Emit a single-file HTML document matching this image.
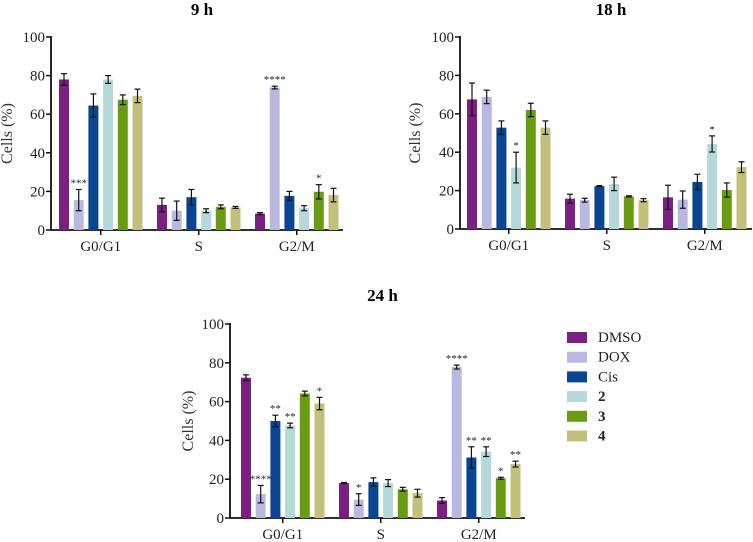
<!DOCTYPE html>
<html><head><meta charset="utf-8"><style>
html,body{margin:0;padding:0;background:#fff;}
svg{display:block;}
svg text{font-family:"Liberation Serif","DejaVu Serif",serif;}
</style></head><body>
<svg id="c" width="753" height="542" viewBox="0 0 753 542"></svg>
<script>
const groups=["G0/G1","S","G2/M"];
const seriesNames=["DMSO","DOX","Cis","2","3","4"];
const colors=["#7b1f82","#b9b9e0","#0a4592","#b5d8d8","#6a9c12","#c3c07c"];
const yTicks=[0,20,40,60,80,100];
const v9=[[78,15.5,64.5,78,67.5,69.5],[13,10,17,10,12,11.7],[8.5,73.8,17.7,11.3,19.8,18.1]];
const e9=[[3,5.5,6,2,2.5,3.5],[3.5,5,4,1,1,0.5],[0.5,0.7,2.3,1.3,3.7,3.5]];
const s9=[["","***","","","",""],["","","","","",""],["","****","","","*",""]];
const v18=[[67.5,68.8,52.8,32,62,52.8],[15.8,15,22.3,23.5,17,15],[16.5,15.3,24.5,44.3,20.3,32.2]];
const e18=[[8.5,3.5,3.5,8,3.5,3.5],[2.3,1,0.3,3.5,0.3,0.8],[6.3,4.5,4,4.2,3.7,2.8]];
const s18=[["","","","*","",""],["","","","","",""],["","","","*","",""]];
const v24=[[72.3,12.3,50,47.7,64.2,59],[18,9.5,18.5,18,14.8,12.8],[9,77.8,31.2,34.2,20.5,27.8]];
const e24=[[1.5,4.5,3,1.2,1.2,3.2],[0.3,3,2.2,1.8,1,2],[1.5,1,5.5,2.5,0.5,1.5]];
const s24=[["","****","**","**","","*"],["","*","","","",""],["","****","**","**","*","**"]];
const NS="http://www.w3.org/2000/svg";
const svg=document.getElementById('c');
function mk(t,a,p){const e=document.createElementNS(NS,t);for(const k in a)e.setAttribute(k,a[k]);(p||svg).appendChild(e);return e;}
function panel(name,title,vals,errs,sigs,ax,y0,y100,xEnd,firstBar,gStep,titleY,ylabX){
  const g=mk('g',{});
  
  
  const y=v=>y0-(y0-y100)*v/100;
  const bw=10,step=14.7;
  const t=mk('text',{x:(ax+xEnd)/2+5,y:titleY,'text-anchor':'middle','font-size':17,'font-weight':'bold'},g);t.textContent=title;
  
  const yl=mk('text',{x:ylabX,y:(y0+y100)/2,'text-anchor':'middle','font-size':16,fill:'#333',transform:`rotate(-90 ${ylabX} ${(y0+y100)/2})`},g);yl.textContent="Cells (%)";
  
  mk('line',{x1:ax,y1:y100-1,x2:ax,y2:y0,stroke:'#111','stroke-width':1.8},g);
  mk('line',{x1:ax,y1:y0,x2:xEnd,y2:y0,stroke:'#111','stroke-width':1.8},g);
  yTicks.forEach(tv=>{mk('line',{x1:ax-5,y1:y(tv),x2:ax,y2:y(tv),stroke:'#111','stroke-width':1.5},g);
    const tl=mk('text',{x:ax-6,y:y(tv)+5,'text-anchor':'end','font-size':15,fill:'#222'},g);tl.textContent=tv;
    });
  groups.forEach((gn,gi)=>{
    const gx=firstBar+gi*gStep;const cx=gx+2.5*step+bw/2;
    mk('line',{x1:cx,y1:y0,x2:cx,y2:y0+5,stroke:'#111','stroke-width':1.5},g);
    const xl=mk('text',{x:cx,y:y0+21,'text-anchor':'middle','font-size':15,fill:'#222'},g);xl.textContent=gn;
    
    vals[gi].forEach((v,si)=>{
      const bx=gx+si*step;
      const r=mk('rect',{x:bx,y:y(v),width:bw,height:y0-y(v),fill:colors[si]},g);
      
      
      const m=bx+bw/2,e=errs[gi][si];
      mk('line',{x1:m,y1:y(v+e),x2:m,y2:y(v-e),stroke:'#111','stroke-width':1.2},g);
      mk('line',{x1:m-3,y1:y(v+e),x2:m+3,y2:y(v+e),stroke:'#111','stroke-width':1.2},g);
      mk('line',{x1:m-3,y1:y(v-e),x2:m+3,y2:y(v-e),stroke:'#111','stroke-width':1.2},g);
      const s=sigs[gi][si];
      if(s){const st=mk('text',{x:m,y:y(v+e)-3,'text-anchor':'middle','font-size':11,fill:'#222'},g);st.textContent=s;
        }
    });
  });
}
panel('panel-9h','9 h',v9,e9,s9,51,230,37,343,59,98,15,12);
panel('panel-18h','18 h',v18,e18,s18,460,229,37,752,467,98,15,420);
panel('panel-24h','24 h',v24,e24,s24,230,518,324,525,241,98,301,193);
const lg=mk('g',{});


seriesNames.forEach((n,i)=>{
  const yy=337+i*19.7;
  const r=mk('rect',{x:567,y:yy-5,width:20,height:11,fill:colors[i]},lg);
  
  const t=mk('text',{x:598,y:yy+5,'font-size':15,fill:'#222','font-weight':(i>=3?'bold':'normal')},lg);t.textContent=n;
  
});
</script>
</body></html>
